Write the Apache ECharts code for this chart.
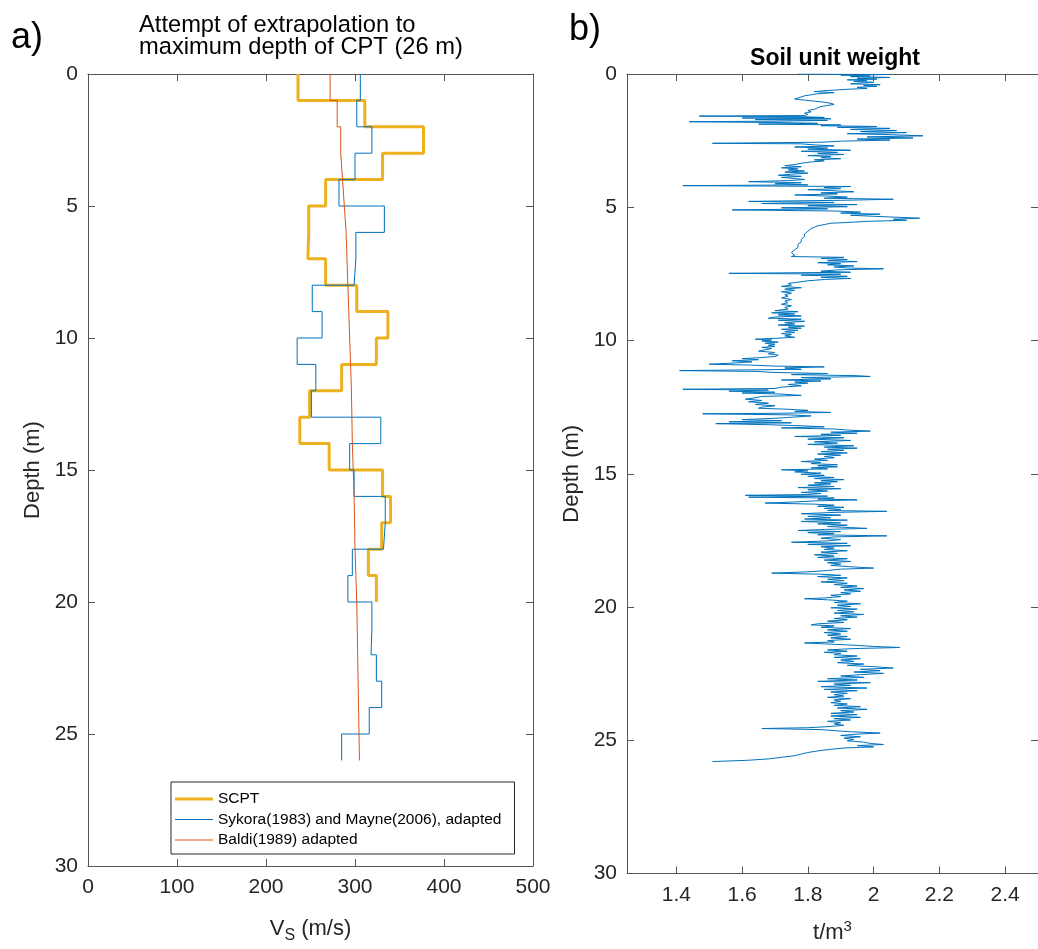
<!DOCTYPE html>
<html>
<head>
<meta charset="utf-8">
<script src="https://cdn.jsdelivr.net/npm/echarts@6/dist/echarts.min.js"></script>
<style>
html,body{margin:0;padding:0;background:#fff;}
#chart{width:1038px;height:949px;}
</style>
</head>
<body>
<div id="chart"></div>
<script>
// ---------- Panel a) : shear wave velocity profiles (layer boundaries in m, Vs in m/s) ----------
const scptDepth = [0,1,2,3,4,5,6,7,8,9,10,11,12,13,14,15,16,17,18,19,20];
const scptVs    = [236,311,377,331,267,248,247,267,302,337,324,285,249,238,271,331,340,330,315,324];

const sykoraDepth = [0,1,2,3,4,5,6,7,8,9,10,11,12,13,14,15,16,17,18,19,20,21,22,23,24,25,26];
const sykoraVs    = [306,302,319,300,282,333,301,299,252,263,235,256,251,329,294,299,334,332,297,292,319,318,324,330,316,285];

const baldiDepth = [0,1,2,3,4,5,6,7,8,9,10,11,12,13,14,15,16,17,18,19,20,21,22,23,24,25,26];
const baldiVs    = [272,280,284,286,288,290,291,292,293,294,295,296,296.5,297,298,299,299.5,300,301,302,302.5,303,303.5,304,304.5,305];

const vsTicks = [0,100,200,300,400,500];
const depthTicks = [0,5,10,15,20,25,30];
const legendNames = ['SCPT', 'Sykora(1983) and Mayne(2006), adapted', 'Baldi(1989) adapted'];

// ---------- Panel b) : soil unit weight (depth in m, weight in t/m3) ----------
const gammaDepth = [
  0.00,0.02,0.04,0.07,0.10,0.13,0.16,0.19,0.22,0.25,0.28,0.31,0.34,0.37,0.40,0.43,0.46,0.50,0.54,0.58,0.62,0.66,0.70,0.74,
  0.78,0.82,0.86,0.90,0.94,0.98,1.02,1.06,1.10,1.14,1.18,1.22,1.27,1.32,1.37,1.42,1.47,1.52,
  1.56,1.58,1.60,1.63,1.65,1.68,1.71,1.74,1.77,1.79,1.80,1.82,1.85,1.88,1.91,1.94,1.97,2.00,2.04,2.08,2.12,2.16,2.20,2.24,2.28,2.32,2.36,2.40,2.44,2.48,2.52,2.56,2.60,2.62,
  2.66,2.70,2.74,2.78,2.82,2.86,2.90,2.94,2.98,3.02,3.06,3.10,3.14,3.18,3.22,3.26,3.30,3.35,3.40,3.44,3.48,3.52,3.56,3.60,3.64,3.68,3.72,3.76,3.80,3.84,3.88,3.92,3.96,4.00,4.04,4.08,4.12,4.16,4.19,4.22,
  4.26,4.30,4.34,4.38,4.42,4.46,4.50,4.54,4.58,4.62,4.66,4.70,4.74,4.78,4.82,4.86,4.90,4.94,4.98,5.02,5.06,5.10,5.14,5.18,5.22,5.26,5.30,5.34,5.38,5.41,5.45,5.49,5.53,5.57,5.60,5.65,5.70,5.75,5.80,
  5.90,6.00,6.10,6.20,6.30,6.40,6.50,6.60,6.70,6.80,6.85,
  6.88,6.92,6.96,7.00,7.04,7.08,7.12,7.16,7.20,7.24,7.28,7.31,7.35,7.40,7.44,7.48,7.51,7.55,7.59,7.63,7.67,7.71,7.76,7.81,7.86,
  7.92,7.97,8.02,8.07,8.12,8.17,8.22,8.28,8.34,8.40,8.46,8.52,8.58,8.64,8.70,8.76,8.82,8.88,
  8.92,8.96,9.00,9.04,9.08,9.12,9.16,9.20,9.24,9.28,
  9.33,9.38,9.42,9.46,9.50,9.54,9.58,9.62,9.66,9.70,9.74,9.78,9.83,9.88,9.92,
  9.95,9.98,10.02,10.06,10.10,10.14,10.18,10.22,10.26,10.30,
  10.35,10.40,10.45,10.50,10.55,10.60,10.64,10.68,10.72,10.76,10.80,10.84,10.89,
  10.92,10.96,10.99,11.03,11.08,11.13,11.16,11.20,11.24,11.28,11.32,11.35,11.39,11.44,11.48,11.52,11.56,11.60,11.65,11.70,
  11.75,11.80,11.83,11.86,11.90,11.94,11.97,12.01,12.06,12.10,12.15,12.20,12.25,12.30,12.35,12.40,12.45,12.50,12.54,12.58,
  12.62,12.66,12.70,12.73,12.75,12.79,12.83,12.87,12.92,12.97,13.01,13.05,13.09,13.12,13.16,13.20,13.24,13.28,13.32,13.36,
  13.40,13.44,13.48,13.52,13.56,13.60,13.65,13.70,13.75,13.80,13.85,
  13.90,13.95,14.00,14.04,14.08,14.12,14.17,14.22,14.26,14.30,14.35,14.40,14.45,14.50,14.54,14.58,14.62,14.66,14.70,14.74,
  14.78,14.82,14.85,14.89,14.93,14.98,15.02,15.06,15.10,15.14,15.18,15.22,15.26,15.30,15.34,15.38,15.43,15.48,15.52,15.56,
  15.60,15.65,15.70,15.74,15.78,15.81,15.84,15.88,15.91,15.95,15.98,16.02,16.06,16.10,16.14,16.18,16.22,16.26,16.30,16.34,
  16.38,16.41,16.45,16.50,16.55,16.60,16.65,16.70,16.74,16.79,16.84,16.88,16.93,16.98,17.02,17.05,17.09,17.13,17.17,17.21,
  17.25,17.29,17.33,17.37,17.42,17.47,17.52,17.57,17.61,17.65,17.70,17.74,17.79,17.84,17.89,17.94,17.99,18.04,18.09,18.14,
  18.19,18.24,18.29,18.34,18.39,18.44,18.49,18.54,18.58,18.63,18.68,18.73,18.77,18.81,18.86,18.91,18.96,19.01,19.06,19.11,
  19.16,19.21,19.26,19.31,19.36,19.41,19.46,19.51,19.56,19.61,19.66,19.69,19.73,19.78,19.83,19.88,19.93,19.98,20.03,20.08,
  20.13,20.18,20.23,20.28,20.33,20.38,20.43,20.48,20.53,20.58,20.63,20.67,20.71,20.76,20.81,20.86,20.91,20.96,21.01,21.06,
  21.11,21.16,21.21,21.26,21.31,21.35,21.40,21.44,21.48,21.52,21.56,21.61,21.66,21.70,21.74,21.79,21.84,21.89,21.94,21.99,
  22.04,22.09,22.14,22.19,22.24,22.29,22.34,22.39,22.44,22.49,22.54,22.59,22.64,22.69,22.74,22.79,22.84,22.89,22.94,22.99,
  23.04,23.09,23.14,23.19,23.24,23.29,23.34,23.39,23.44,23.49,23.54,23.59,23.64,23.69,23.74,23.79,23.84,23.89,23.94,23.99,
  24.04,24.09,24.14,24.19,24.24,24.29,24.34,24.39,24.44,24.49,24.53,24.56,24.60,24.64,24.68,24.73,24.77,24.82,24.87,24.92,
  24.97,25.02,25.07,25.12,25.16,25.20,25.25,25.29,25.34,25.40,25.46,25.52,25.58,25.64,25.70,25.75,25.80
];
const gammaWeight = [
  1.77,2.04,1.90,1.99,1.93,2.05,1.95,2.01,1.92,1.98,1.94,2.00,1.96,1.93,2.02,1.97,2.01,1.95,1.98,1.91,1.86,1.82,1.88,1.83,
  1.81,1.79,1.78,1.77,1.76,1.79,1.82,1.85,1.87,1.88,1.86,1.84,1.83,1.82,1.80,1.81,1.79,1.80,
  1.79,1.47,1.78,1.85,1.60,1.87,1.64,1.86,1.70,1.44,1.52,1.70,1.83,1.65,1.90,1.84,2.01,1.89,2.05,1.93,2.07,1.96,2.10,1.92,2.06,2.15,1.98,2.12,1.95,2.05,1.90,1.84,1.51,1.78,
  1.82,1.88,1.76,1.86,1.80,1.93,1.78,1.89,1.83,1.91,1.80,1.87,1.84,1.90,1.82,1.85,1.81,1.78,1.76,1.73,1.78,1.72,1.77,1.74,1.79,1.73,1.80,1.75,1.71,1.78,1.72,1.76,1.79,1.74,1.62,1.78,1.70,1.80,1.42,1.93,
  1.85,1.90,1.80,1.88,1.94,1.84,1.89,1.76,1.86,1.92,1.85,2.06,1.90,1.62,1.88,1.66,1.95,1.80,1.92,1.72,1.86,1.57,1.88,1.96,1.90,2.02,1.93,2.00,2.08,2.14,2.06,2.10,1.98,1.92,1.87,1.85,1.83,1.82,1.81,
  1.80,1.79,1.79,1.78,1.78,1.77,1.77,1.76,1.75,1.76,1.75,
  1.91,1.84,1.92,1.86,1.95,1.83,1.90,1.86,1.94,1.88,1.92,2.03,1.89,1.84,1.93,1.56,1.90,1.78,1.92,1.84,1.93,1.85,1.80,1.77,1.74,
  1.75,1.72,1.78,1.73,1.76,1.72,1.75,1.73,1.74,1.72,1.75,1.73,1.74,1.72,1.75,1.73,1.74,1.70,
  1.77,1.69,1.76,1.71,1.78,1.70,1.68,1.78,1.71,1.79,
  1.73,1.76,1.71,1.79,1.74,1.78,1.72,1.77,1.73,1.76,1.72,1.75,1.73,1.76,1.70,
  1.64,1.69,1.66,1.71,1.67,1.70,1.68,1.70,1.66,1.69,
  1.67,1.65,1.70,1.68,1.71,1.70,1.66,1.60,1.65,1.57,1.63,1.58,1.50,
  1.62,1.70,1.85,1.73,1.78,1.41,1.64,1.70,1.86,1.75,1.95,1.99,1.78,1.87,1.72,1.84,1.76,1.80,1.74,1.78,
  1.72,1.70,1.42,1.68,1.56,1.70,1.60,1.72,1.78,1.66,1.64,1.61,1.66,1.62,1.68,1.64,1.70,1.66,1.65,1.74,
  1.80,1.76,1.87,1.72,1.48,1.74,1.81,1.76,1.70,1.60,1.72,1.56,1.75,1.52,1.68,1.78,1.85,1.72,1.88,1.92,
  1.99,1.87,1.95,1.84,1.90,1.76,1.91,1.80,1.93,1.82,1.89,
  1.80,1.94,1.85,1.95,1.86,1.91,1.84,1.92,1.83,1.90,1.85,1.88,1.82,1.86,1.78,1.84,1.81,1.89,1.83,1.89,
  1.81,1.86,1.72,1.80,1.76,1.84,1.78,1.85,1.80,1.88,1.82,1.91,1.84,1.89,1.82,1.87,1.80,1.88,1.77,1.90,
  1.80,1.86,1.78,1.84,1.80,1.61,1.86,1.62,1.88,1.83,1.95,1.82,1.76,1.67,1.82,1.88,1.83,1.91,1.85,1.90,
  1.86,2.04,1.88,1.78,1.90,1.80,1.87,1.79,1.92,1.78,1.90,1.83,1.92,1.86,1.93,1.98,1.85,1.77,1.90,1.80,
  1.88,1.83,2.04,1.88,1.84,1.90,1.86,1.75,1.92,1.80,1.93,1.84,1.88,1.85,1.92,1.84,1.89,1.82,1.88,1.83,
  1.92,1.85,1.93,1.86,1.90,1.87,1.93,2.00,1.90,1.86,1.80,1.69,1.84,1.90,1.83,1.92,1.86,1.91,1.84,1.92,
  1.88,1.95,1.90,1.97,1.91,1.96,1.90,1.93,1.87,1.90,1.85,1.79,1.86,1.92,1.88,1.96,1.89,1.93,1.87,1.95,
  1.89,1.94,1.88,1.97,1.90,1.95,1.88,1.92,1.86,1.91,1.83,1.81,1.88,1.84,1.93,1.86,1.92,1.85,1.90,1.86,
  1.92,1.87,1.93,1.86,1.88,1.79,1.88,1.95,2.00,2.08,1.94,1.86,1.92,1.85,1.90,1.88,1.95,1.88,1.96,1.90,
  1.94,1.89,1.97,1.92,2.00,2.06,1.96,2.02,1.94,2.03,1.96,1.90,1.97,1.86,1.95,1.83,1.99,1.88,1.93,1.84,
  1.98,1.85,1.95,1.87,1.92,1.88,1.91,1.86,1.93,1.88,1.90,1.87,1.92,1.88,1.96,1.89,1.98,1.90,1.94,1.87,
  1.95,1.87,1.96,1.88,1.93,1.86,1.90,1.88,1.91,1.86,1.80,1.66,1.84,1.88,1.93,2.02,1.95,1.90,1.96,1.91,
  1.94,1.92,1.97,1.99,2.03,1.95,2.00,1.91,1.87,1.83,1.80,1.78,1.76,1.72,1.68,1.62,1.51
];
const weightTicks = [1.4,1.6,1.8,2,2.2,2.4];

// ---------- helpers ----------
function stairs(depths, vals) {
  const pts = [];
  for (let i = 0; i < vals.length; i++) {
    pts.push([vals[i], depths[i]]);
    pts.push([vals[i], depths[i + 1]]);
  }
  return pts;
}
const gammaPts = gammaDepth.map((d, i) => [gammaWeight[i], d]);

const FONT = "'Liberation Sans', Arial, Helvetica, sans-serif";
const AX = '#555555';
const TXT = '#262626';

function baseAxis(extra) {
  return Object.assign({
    type: 'value',
    axisLine: { show: true, onZero: false, lineStyle: { color: AX, width: 1 } },
    axisTick: { show: true, inside: true, length: 7, lineStyle: { color: AX, width: 1 } },
    splitLine: { show: false },
    axisLabel: { show: true, color: TXT, fontSize: 21, fontFamily: FONT, margin: 10 },
    nameTextStyle: { color: TXT, fontSize: 22, fontFamily: FONT }
  }, extra);
}
function hiddenLabels(ax) { ax.axisLabel = Object.assign({}, ax.axisLabel, { show: false }); return ax; }

const chart = echarts.init(document.getElementById('chart'), null, { renderer: 'canvas' });

const option = {
  animation: false,
  backgroundColor: '#ffffff',
  textStyle: { fontFamily: FONT },
  grid: [
    { left: 88, top: 74, width: 445, height: 800 },
    { left: 627, top: 74, width: 416, height: 800 }
  ],
  xAxis: [
    baseAxis({ gridIndex: 0, position: 'bottom', min: 0, max: 500, interval: 100,
      axisLabel: { color: TXT, fontSize: 21, fontFamily: FONT, margin: 11, customValues: vsTicks },
      axisTick: { show: true, inside: true, length: 7, lineStyle: { color: AX }, customValues: vsTicks },
      name: 'V{sub|S} (m/s)', nameLocation: 'middle', nameGap: 48,
      nameTextStyle: { color: TXT, fontSize: 22, fontFamily: FONT,
        rich: { sub: { fontSize: 16, fontFamily: FONT, color: TXT, verticalAlign: 'bottom', padding: [14, 0, 0, 0] } } } }),
    hiddenLabels(baseAxis({ gridIndex: 0, position: 'top', min: 0, max: 500, interval: 100 })),
    baseAxis({ gridIndex: 1, position: 'bottom', min: 1.25, max: 2.5,
      axisLabel: { color: TXT, fontSize: 21, fontFamily: FONT, margin: 11, customValues: weightTicks },
      axisTick: { show: true, inside: true, length: 7, lineStyle: { color: AX }, customValues: weightTicks },
      name: 't/m{sup|3}', nameLocation: 'middle', nameGap: 46,
      nameTextStyle: { color: TXT, fontSize: 22, fontFamily: FONT,
        rich: { sup: { fontSize: 15, fontFamily: FONT, color: TXT, verticalAlign: 'top', padding: [0, 0, 12, 0] } } } }),
    hiddenLabels(baseAxis({ gridIndex: 1, position: 'top', min: 1.25, max: 2.5,
      axisTick: { show: true, inside: true, length: 7, lineStyle: { color: AX }, customValues: weightTicks } }))
  ],
  yAxis: [
    baseAxis({ gridIndex: 0, position: 'left', inverse: true, min: 0, max: 30, interval: 5,
      name: 'Depth (m)', nameLocation: 'middle', nameGap: 44, nameRotate: 90 }),
    hiddenLabels(baseAxis({ gridIndex: 0, position: 'right', inverse: true, min: 0, max: 30, interval: 5 })),
    baseAxis({ gridIndex: 1, position: 'left', inverse: true, min: 0, max: 30, interval: 5,
      name: 'Depth (m)', nameLocation: 'middle', nameGap: 44, nameRotate: 90 }),
    hiddenLabels(baseAxis({ gridIndex: 1, position: 'right', inverse: true, min: 0, max: 30, interval: 5 }))
  ],
  legend: {
    show: true,
    orient: 'vertical',
    left: 171,
    top: 782,
    itemWidth: 38,
    itemHeight: 14,
    itemGap: 4.5,
    padding: [9, 13, 6, 4],
    borderColor: '#262626',
    borderWidth: 1,
    backgroundColor: '#ffffff',
    symbolKeepAspect: true,
    textStyle: { fontSize: 15.5, color: '#000', fontFamily: FONT },
    data: [
      { name: legendNames[0], icon: 'path://M0,0H40V3H0Z' },
      { name: legendNames[1], icon: 'path://M0,0H40V1H0Z' },
      { name: legendNames[2], icon: 'path://M0,0H40V1H0Z' }
    ]
  },
  graphic: [
    { type: 'text', style: { x: 11, y: 38, text: 'a)', font: '36px ' + FONT, fill: '#000', textVerticalAlign: 'middle' } },
    { type: 'text', style: { x: 139, y: 25, text: 'Attempt of extrapolation to', font: '23.7px ' + FONT, fill: '#000', textVerticalAlign: 'middle' } },
    { type: 'text', style: { x: 139, y: 47.5, text: 'maximum depth of CPT (26 m)', font: '23.7px ' + FONT, fill: '#000', textVerticalAlign: 'middle' } },
    { type: 'text', style: { x: 569, y: 30, text: 'b)', font: '36px ' + FONT, fill: '#000', textVerticalAlign: 'middle' } },
    { type: 'text', style: { x: 835, y: 59, text: 'Soil unit weight', font: 'bold 23px ' + FONT, fill: '#000', textAlign: 'center', textVerticalAlign: 'middle' } }
  ],
  series: [
    { name: legendNames[0], type: 'line', xAxisIndex: 0, yAxisIndex: 0, data: stairs(scptDepth, scptVs),
      symbol: 'none', color: '#EDB120', lineStyle: { color: '#EDB120', width: 3 }, z: 2 },
    { name: legendNames[1], type: 'line', xAxisIndex: 0, yAxisIndex: 0, data: stairs(sykoraDepth, sykoraVs),
      symbol: 'none', color: '#0072BD', lineStyle: { color: '#0072BD', width: 1 }, z: 3 },
    { name: legendNames[2], type: 'line', xAxisIndex: 0, yAxisIndex: 0, data: stairs(baldiDepth, baldiVs),
      symbol: 'none', color: '#D95319', lineStyle: { color: '#D95319', width: 1 }, z: 4 },
    { name: 'Soil unit weight', type: 'line', xAxisIndex: 2, yAxisIndex: 2, data: gammaPts,
      symbol: 'none', color: '#0072BD', lineStyle: { color: '#0072BD', width: 1 }, z: 2 }
  ]
};
chart.setOption(option);
</script>
</body>
</html>
